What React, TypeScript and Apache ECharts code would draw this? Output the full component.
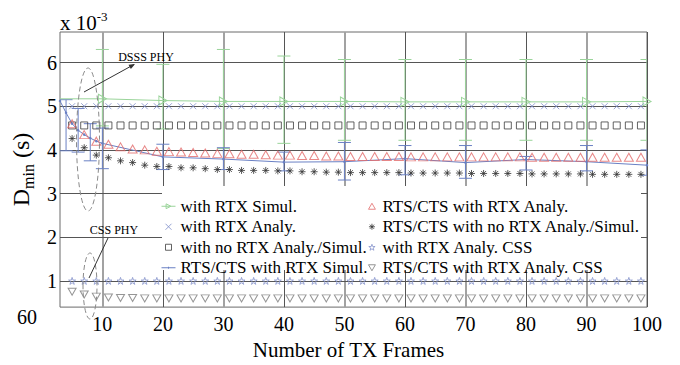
import React, { useEffect, useRef } from "react";
import * as echarts from "echarts";

const FONT = '"Liberation Serif", "Times New Roman", serif';

const xOdd = [5, 7, 9, 11, 13, 15, 17, 19, 21, 23, 25, 27, 29, 31, 33, 35, 37, 39, 41, 43, 45, 47, 49, 51, 53, 55, 57, 59, 61, 63, 65, 67, 69, 71, 73, 75, 77, 79, 81, 83, 85, 87, 89, 91, 93, 95, 97, 99];
const rtxAnaly = [5, 5, 5, 5, 5, 5, 5, 5, 5, 5, 5, 5, 5, 5, 5, 5, 5, 5, 5, 5, 5, 5, 5, 5, 5, 5, 5, 5, 5, 5, 5, 5, 5, 5, 5, 5, 5, 5, 5, 5, 5, 5, 5, 5, 5, 5, 5, 5];
const noRtx = [4.56, 4.56, 4.56, 4.56, 4.56, 4.56, 4.56, 4.56, 4.56, 4.56, 4.56, 4.56, 4.56, 4.56, 4.56, 4.56, 4.56, 4.56, 4.56, 4.56, 4.56, 4.56, 4.56, 4.56, 4.56, 4.56, 4.56, 4.56, 4.56, 4.56, 4.56, 4.56, 4.56, 4.56, 4.56, 4.56, 4.56, 4.56, 4.56, 4.56, 4.56, 4.56, 4.56, 4.56, 4.56, 4.56, 4.56, 4.56];
const rtsAnaly = [4.6, 4.35, 4.2, 4.13, 4.07, 4.02, 4.0, 3.97, 3.96, 3.95, 3.94, 3.93, 3.92, 3.91, 3.9, 3.9, 3.89, 3.88, 3.88, 3.87, 3.87, 3.86, 3.86, 3.85, 3.85, 3.85, 3.85, 3.85, 3.84, 3.84, 3.84, 3.84, 3.84, 3.84, 3.84, 3.84, 3.84, 3.84, 3.83, 3.83, 3.83, 3.83, 3.83, 3.83, 3.83, 3.83, 3.83, 3.83];
const rtsNoRtx = [4.26, 4.05, 3.88, 3.82, 3.75, 3.71, 3.65, 3.62, 3.62, 3.59, 3.59, 3.57, 3.55, 3.55, 3.53, 3.53, 3.53, 3.52, 3.52, 3.5, 3.5, 3.49, 3.49, 3.48, 3.48, 3.48, 3.48, 3.48, 3.47, 3.47, 3.47, 3.47, 3.47, 3.46, 3.46, 3.46, 3.46, 3.46, 3.45, 3.45, 3.45, 3.45, 3.45, 3.44, 3.44, 3.44, 3.44, 3.44];
const cssStars = [1, 1, 1, 1, 1, 1, 1, 1, 1, 1, 1, 1, 1, 1, 1, 1, 1, 1, 1, 1, 1, 1, 1, 1, 1, 1, 1, 1, 1, 1, 1, 1, 1, 1, 1, 1, 1, 1, 1, 1, 1, 1, 1, 1, 1, 1, 1, 1];
const cssTri = [0.75, 0.69, 0.64, 0.62, 0.61, 0.61, 0.6, 0.6, 0.6, 0.6, 0.6, 0.6, 0.6, 0.6, 0.6, 0.6, 0.6, 0.6, 0.6, 0.6, 0.6, 0.6, 0.6, 0.6, 0.6, 0.6, 0.6, 0.6, 0.6, 0.6, 0.6, 0.6, 0.6, 0.6, 0.6, 0.6, 0.6, 0.6, 0.6, 0.6, 0.6, 0.6, 0.6, 0.6, 0.6, 0.6, 0.6, 0.6];

const simX = [3, 10, 20, 30, 40, 50, 60, 70, 80, 90, 100];
const simY = [5.17, 5.17, 5.13, 5.11, 5.11, 5.11, 5.1, 5.1, 5.1, 5.1, 5.11];
const simErrX = [10, 20, 30, 40, 50, 60, 70, 80, 90, 100];
const simErrHi = [6.3, 5.96, 6.3, 6.15, 6.07, 6.07, 6.07, 6.07, 6.07, 6.07];
const simErrLo = [4.55, 4.48, 4.03, 4.15, 4.22, 4.22, 4.22, 4.22, 4.22, 4.22];

const rtsSimX = [3, 4, 5, 6, 7, 8, 9, 10, 20, 30, 40, 50, 60, 70, 80, 90, 100];
const rtsSimY = [5.12, 4.85, 4.6, 4.45, 4.35, 4.27, 4.2, 4.15, 3.84, 3.79, 3.72, 3.73, 3.8, 3.71, 3.78, 3.73, 3.65];
const rtsErrX = [4, 6, 8, 10, 20, 30, 40, 50, 60, 70, 80, 90, 100];
const rtsErrHi = [5.15, 4.95, 4.6, 4.5, 4.13, 4.05, 3.95, 4.17, 4.1, 4.1, 3.85, 4.1, 4.0];
const rtsErrLo = [3.98, 3.95, 3.75, 3.57, 3.55, 3.55, 3.52, 3.31, 3.43, 3.35, 3.54, 3.52, 3.42];

const xTicks = [10, 20, 30, 40, 50, 60, 70, 80, 90, 100];
const yTicks = [1, 2, 3, 4, 5, 6];

const NAMES = [
  "with RTX Simul.",
  "with RTX Analy.",
  "with no RTX Analy./Simul.",
  "RTS/CTS with RTX Simul.",
  "RTS/CTS with RTX Analy.",
  "RTS/CTS with no RTX Analy./Simul.",
  "with RTX Analy. CSS",
  "RTS/CTS with RTX Analy. CSS",
];

const C_GREEN = "#9ad49a";
const C_BLUE = "#6a80c4";
const C_XBLUE = "#7d8cc8";
const C_RED = "#e26a6a";
const C_SQ = "#3c3c3c";
const C_AST = "#333333";
const C_STAR = "#8693cc";
const C_TRI = "#7a7a7a";

const SYM_TRI_RIGHT = "path://M0,0 L10,5 L0,10 Z";
const SYM_CROSS = "path://M0,0 L10,10 M10,0 L0,10";
const SYM_AST = "path://M5,0 L5,10 M0,5 L10,5 M1.5,1.5 L8.5,8.5 M8.5,1.5 L1.5,8.5";
const SYM_STAR = "path://M5,0 L6.2,3.6 L10,3.6 L6.9,5.9 L8.1,9.5 L5,7.3 L1.9,9.5 L3.1,5.9 L0,3.6 L3.8,3.6 Z";
const SYM_TRI_DOWN = "path://M0,0 L10,0 L5,8.7 Z";
const SYM_TRI_UP = "path://M5,0 L10,8.7 L0,8.7 Z";
const SYM_RECT = "path://M0,0 L10,0 L10,10 L0,10 Z";

function zip(xs: number[], ys: number[]) {
  return xs.map((x, i) => [x, ys[i]]);
}

function errRender(color: string) {
  return (params: any, api: any) => {
    const x = api.value(0);
    const p1 = api.coord([x, api.value(1)]);
    const p2 = api.coord([x, api.value(2)]);
    const hw = 6.5;
    const style = { stroke: color, lineWidth: 1, fill: "none" };
    return {
      type: "group",
      children: [
        { type: "line", shape: { x1: p1[0], y1: p1[1], x2: p2[0], y2: p2[1] }, style },
        { type: "line", shape: { x1: p1[0] - hw, y1: p1[1], x2: p1[0] + hw, y2: p1[1] }, style },
        { type: "line", shape: { x1: p2[0] - hw, y1: p2[1], x2: p2[0] + hw, y2: p2[1] }, style },
      ],
    };
  };
}

function hollow(color: string) {
  return { color: "none", borderColor: color, borderWidth: 1 };
}

export default function App() {
  const ref = useRef<HTMLDivElement>(null);
  useEffect(() => {
    document.body.style.margin = "0";
    const chart = echarts.init(ref.current!, null, { renderer: "svg" });
    const gridLines: any[] = [
      ...xTicks.map((v) => ({
        xAxis: v,
        lineStyle: { color: (v / 10) % 2 === 1 ? "#a2a2a2" : "#555555", width: (v / 10) % 2 === 1 ? 2 : 1, type: "solid" },
      })),
      ...yTicks.map((v) => ({ yAxis: v, lineStyle: { color: "#555555", width: 1, type: "solid" } })),
    ];
    const legendCommon = {
      orient: "vertical",
      top: 196,
      itemGap: 0,
      itemHeight: 6,
      padding: 0,
      z: 60,
      selectedMode: false,
      textStyle: { fontFamily: FONT, fontSize: 17, color: "#000", lineHeight: 20.5 },
      itemStyle: { borderWidth: 1 },
      lineStyle: { width: 1 },
    };
    const option: any = {
      animation: false,
      grid: { left: 60, right: 33, top: 32, bottom: 43, show: true, borderColor: "#6a6a6a", borderWidth: 1, backgroundColor: "transparent" },
      xAxis: {
        type: "value",
        min: 3,
        max: 100,
        name: "Number of TX Frames",
        nameLocation: "middle",
        nameGap: 21,
        nameTextStyle: { fontFamily: FONT, fontSize: 21, color: "#000", padding: [0, 10, 0, 0] },
        axisLine: { show: false },
        axisTick: { show: false },
        splitLine: { show: false },
        axisLabel: { customValues: xTicks, fontFamily: FONT, fontSize: 20, color: "#000", margin: 7 },
      },
      yAxis: {
        type: "value",
        min: 0.4,
        max: 6.7,
        name: "{d|D}{s|min}{d| (s)}",
        nameLocation: "middle",
        nameRotate: 90,
        nameGap: 22,
        nameTextStyle: {
          fontFamily: FONT,
          color: "#000",
          rich: {
            d: { fontFamily: FONT, fontSize: 24, lineHeight: 30, color: "#000" },
            s: { fontFamily: FONT, fontSize: 16, lineHeight: 16, verticalAlign: "bottom", color: "#000" },
          },
        },
        axisLine: { show: false },
        axisTick: { show: false },
        splitLine: { show: false },
        axisLabel: { customValues: yTicks, fontFamily: FONT, fontSize: 20, color: "#000", margin: 3 },
      },
      legend: [
        {
          ...legendCommon, left: 161, itemWidth: 14,
          data: [
            NAMES[0],
            NAMES[1],
            NAMES[2],
            { name: NAMES[3], icon: "path://M0,3 L14,3 L14,4 L0,4 Z M6.5,2.5 L7.5,2.5 L7.5,4.5 L6.5,4.5 Z" },
          ],
        },
        { ...legendCommon, left: 366, itemWidth: 11, data: NAMES.slice(4, 8) },
      ],
      graphic: {
        z: 50,
        elements: [
          { type: "rect", z: 50, silent: true, shape: { x: 162, y: 186, width: 479, height: 84 }, style: { fill: "#ffffff" } },
          {
            type: "text", z: 60, x: 60, y: 10,
            style: {
              text: "{a|x 10}{b|-3}",
              rich: {
                a: { fontFamily: FONT, fontSize: 21, lineHeight: 26, fill: "#000" },
                b: { fontFamily: FONT, fontSize: 13, lineHeight: 8, verticalAlign: "top", fill: "#000" },
              },
            },
          },
          { type: "text", z: 60, x: 17, y: 317, style: { text: "60", fontFamily: FONT, fontSize: 20, fill: "#000", verticalAlign: "middle" } },
          { type: "text", z: 60, x: 146, y: 57, style: { text: "DSSS PHY", fontFamily: FONT, fontSize: 12, fill: "#000", align: "center", verticalAlign: "middle" } },
          { type: "text", z: 60, x: 114, y: 230, style: { text: "CSS PHY", fontFamily: FONT, fontSize: 12, fill: "#000", align: "center", verticalAlign: "middle" } },
          { type: "ellipse", z: 60, silent: true, shape: { cx: 88, cy: 139.5, rx: 11.5, ry: 71.5 }, style: { fill: "none", stroke: "#8a8a8a", lineWidth: 1, lineDash: [5, 3] } },
          { type: "ellipse", z: 60, silent: true, shape: { cx: 90, cy: 286, rx: 7, ry: 33 }, style: { fill: "none", stroke: "#8a8a8a", lineWidth: 1, lineDash: [5, 3] } },
          { type: "line", z: 60, silent: true, shape: { x1: 84, y1: 92, x2: 134, y2: 64.5 }, style: { stroke: "#333", lineWidth: 1 } },
          { type: "polygon", z: 60, silent: true, shape: { points: [[135, 64], [130.9, 69.1], [128.5, 64.7]] }, style: { fill: "#333" } },
          { type: "line", z: 60, silent: true, shape: { x1: 89, y1: 278, x2: 108, y2: 238 }, style: { stroke: "#333", lineWidth: 1 } },
        ],
      },
      series: [
        {
          type: "custom", name: "_simErr", clip: true, silent: true, z: 2,
          renderItem: errRender(C_GREEN),
          encode: { x: 0, y: [1, 2] },
          data: simErrX.map((x, i) => [x, simErrHi[i], simErrLo[i]]),
        },
        {
          type: "custom", name: "_rtsErr", clip: true, silent: true, z: 2,
          renderItem: errRender(C_BLUE),
          encode: { x: 0, y: [1, 2] },
          data: rtsErrX.map((x, i) => [x, rtsErrHi[i], rtsErrLo[i]]),
        },
        {
          type: "line", name: NAMES[0], z: 3,
          symbol: SYM_TRI_RIGHT, symbolSize: [8, 9],
          itemStyle: hollow(C_GREEN),
          lineStyle: { color: C_GREEN, width: 1 },
          data: zip(simX, simY).map((p, i) => (i === 0 ? { value: p, symbol: "none" } : p)),
        },
        {
          type: "scatter", name: NAMES[1], z: 3,
          symbol: SYM_CROSS, symbolSize: 6,
          itemStyle: hollow(C_XBLUE),
          data: zip(xOdd, rtxAnaly),
        },
        {
          type: "scatter", name: NAMES[2], z: 3,
          symbol: SYM_RECT, symbolSize: 7,
          itemStyle: hollow(C_SQ),
          data: zip(xOdd, noRtx),
        },
        {
          type: "line", name: NAMES[3], z: 3,
          symbol: "circle", symbolSize: 2.5, showSymbol: true,
          itemStyle: { color: C_BLUE },
          lineStyle: { color: C_BLUE, width: 1 },
          data: zip(rtsSimX, rtsSimY),
        },
        {
          type: "scatter", name: NAMES[4], z: 3,
          symbol: SYM_TRI_UP, symbolSize: [9, 8],
          itemStyle: hollow(C_RED),
          data: zip(xOdd, rtsAnaly),
        },
        {
          type: "scatter", name: NAMES[5], z: 3,
          symbol: SYM_AST, symbolSize: 7,
          itemStyle: hollow(C_AST),
          data: zip(xOdd, rtsNoRtx),
        },
        {
          type: "scatter", name: NAMES[6], z: 3,
          symbol: SYM_STAR, symbolSize: 7,
          itemStyle: hollow(C_STAR),
          data: zip(xOdd, cssStars),
          markLine: {
            silent: true,
            z: 1,
            symbol: ["none", "none"],
            label: { show: false },
            emphasis: { disabled: true },
            animation: false,
            data: gridLines,
          },
        },
        {
          type: "scatter", name: NAMES[7], z: 3,
          symbol: SYM_TRI_DOWN, symbolSize: [8, 7],
          itemStyle: hollow(C_TRI),
          data: zip(xOdd, cssTri),
        },
      ],
    };
    chart.setOption(option);
    return () => chart.dispose();
  }, []);
  return <div ref={ref} style={{ width: 680, height: 365 }} />;
}
